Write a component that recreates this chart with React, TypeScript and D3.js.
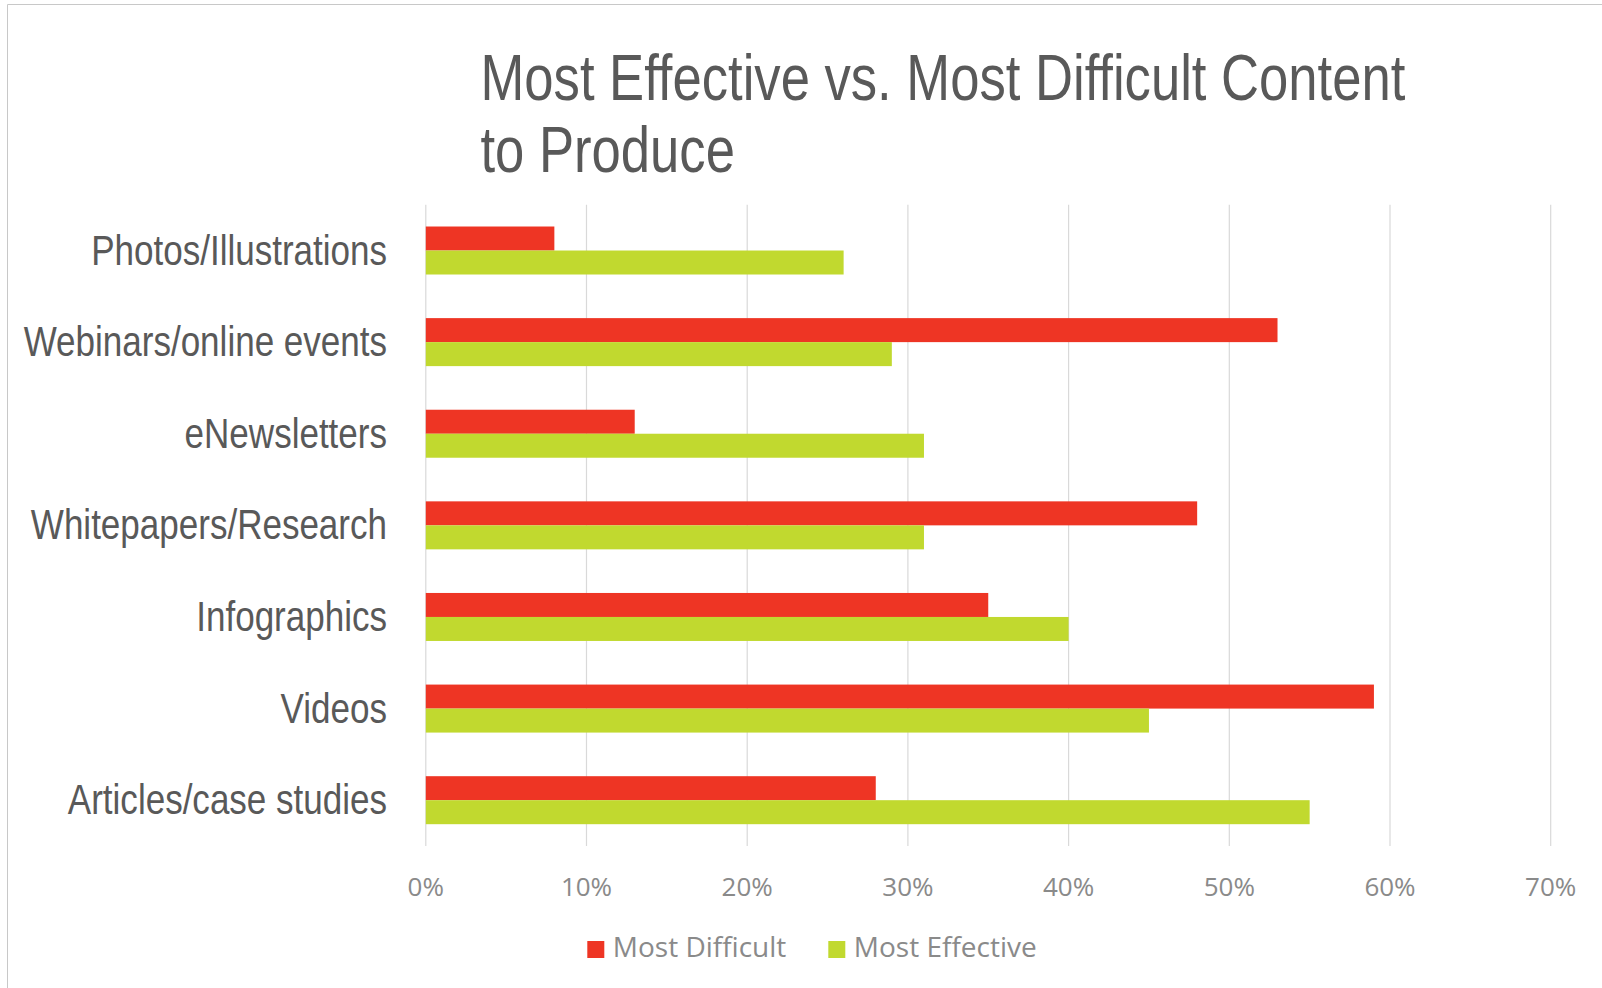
import React from "react";
import * as d3 from "d3";

// Content types, listed top to bottom
const categories: string[] = [
  "Photos/Illustrations",
  "Webinars/online events",
  "eNewsletters",
  "Whitepapers/Research",
  "Infographics",
  "Videos",
  "Articles/case studies",
];

// Share of respondents (%) per content type
const mostDifficult: number[] = [8, 53, 13, 48, 35, 59, 28];
const mostEffective: number[] = [26, 29, 31, 31, 40, 45, 55];

const seriesNames: string[] = ["Most Difficult", "Most Effective"];
const seriesColors: string[] = ["#EE3524", "#C1D92F"];

const xTicks: number[] = [0, 10, 20, 30, 40, 50, 60, 70];
const titleLines: string[] = ["Most Effective vs. Most Difficult Content", "to Produce"];

const WIDTH = 1602;
const HEIGHT = 988;

// Condensed face: Liberation Sans squeezed horizontally
const NARROW = "'Liberation Sans', Arial, sans-serif";
const TITLE_SQUEEZE = 0.822;
const LABEL_SQUEEZE = 0.834;
const BODY = "'Open Sans', sans-serif";

export default function App() {
  const plot = { left: 425.8, right: 1550.7, top: 204.7, bottom: 846 };

  const x = d3.scaleLinear().domain([0, 70]).range([plot.left, plot.right]);
  const y = d3
    .scaleBand<string>()
    .domain(categories)
    .range([plot.top, plot.bottom])
    .padding(0);

  const step = y.bandwidth();
  const groupH = 48;
  const inner = d3
    .scaleBand<string>()
    .domain(seriesNames)
    .range([(step - groupH) / 2, (step + groupH) / 2])
    .padding(0);

  const seriesValues = [mostDifficult, mostEffective];

  return (
    <svg
      width={WIDTH}
      height={HEIGHT}
      style={{ position: "absolute", left: 0, top: 0, background: "#fff" }}
    >
      {/* chart frame */}
      <line x1={7.5} y1={4.5} x2={WIDTH} y2={4.5} stroke="#c8c8c8" strokeWidth={1} />
      <line x1={7.5} y1={4.5} x2={7.5} y2={HEIGHT} stroke="#c8c8c8" strokeWidth={1} />

      {/* title */}
      {titleLines.map((t, i) => (
        <text
          key={t}
          transform={`translate(480.5,${100 + i * 72}) scale(${TITLE_SQUEEZE},1)`}
          fontFamily={NARROW}
          fontSize={64}
          fill="#595959"
        >
          {t}
        </text>
      ))}

      {/* vertical gridlines */}
      {xTicks.map((t) => (
        <line
          key={`g${t}`}
          x1={x(t)}
          x2={x(t)}
          y1={plot.top}
          y2={plot.bottom}
          stroke="#d9d9d9"
          strokeWidth={1.2}
        />
      ))}

      {/* bars */}
      {categories.map((c, ci) => (
        <g key={c} transform={`translate(0,${y(c)})`}>
          {seriesNames.map((s, si) => (
            <rect
              key={s}
              x={x(0)}
              y={inner(s)}
              width={x(seriesValues[si][ci]) - x(0)}
              height={inner.bandwidth()}
              fill={seriesColors[si]}
            />
          ))}
        </g>
      ))}

      {/* category labels */}
      {categories.map((c) => (
        <text
          key={`l${c}`}
          transform={`translate(387,${(y(c) as number) + step / 2 - 1}) scale(${LABEL_SQUEEZE},1)`}
          dy="0.36em"
          textAnchor="end"
          fontFamily={NARROW}
          fontSize={42}
          fill="#595959"
        >
          {c}
        </text>
      ))}

      {/* x tick labels */}
      {xTicks.map((t) => (
        <text
          key={`t${t}`}
          x={x(t)}
          y={896}
          textAnchor="middle"
          fontFamily={BODY}
          fontSize={26}
          fill="#8a8a8a"
        >
          {`${t}%`}
        </text>
      ))}

      {/* legend */}
      {seriesNames.map((s, i) => {
        const lx = [587.3, 828.3][i];
        return (
          <g key={`lg${s}`}>
            <rect x={lx} y={941} width={17} height={17} fill={seriesColors[i]} />
            <text
              x={lx + 25.5}
              y={957.3}
              fontFamily={BODY}
              fontSize={28}
              fill="#8a8a8a"
            >
              {s}
            </text>
          </g>
        );
      })}
    </svg>
  );
}
